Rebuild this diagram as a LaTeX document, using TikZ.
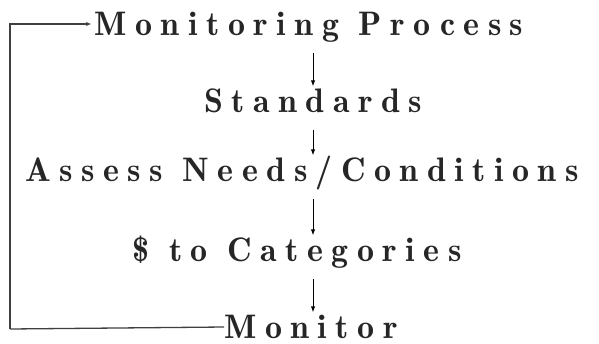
\documentclass[tikz,border=0pt]{standalone}
\usepackage{fontspec}
\setmainfont{Latin Modern Roman Demi}[LetterSpace=25]
\usepackage{tikz}
\usetikzlibrary{calc,arrows.meta,positioning}

\tikzset{
  stage/.style={inner sep=0pt, text height=23pt, text depth=0pt, font=\fontsize{34}{38}\selectfont, text=black!85},
  flow/.style={-{Latex[length=6pt,width=4.5pt]}, line width=1pt, shorten <=17pt, shorten >=3pt},
  loop/.style={line width=1.3pt, black!75}
}

\begin{document}
\begin{tikzpicture}[x=1pt,y=-1pt]
\useasboundingbox (0,0) rectangle (599,343);

\node[stage] (mon)     at (309,24)  {Monitoring Process};
\node[stage] (std)     at (313,101) {Standards};
\node[stage] (assess)  at (302,170) {Assess Needs/Conditions};
\node[stage] (cat)     at (297,250) {\$ to Categories};
\node[stage] (monitor) at (311,327) {Monitor};

\draw[flow] (mon.south -| std) -- (std.north);
\draw[flow] (std.south) -- (assess.north -| std);
\draw[flow] (assess.south -| std) -- (cat.north -| std);
\draw[flow] (cat.south -| std) -- (monitor.north -| std);

%%%%%%%%%%%%%%%
\coordinate (corner) at (10,329);
\draw[loop] (monitor.west) -- (corner);
\draw[loop, -{Latex[length=5pt,width=4pt]}, shorten >=3pt] (corner) |- (mon.west);

\end{tikzpicture}
\end{document}
